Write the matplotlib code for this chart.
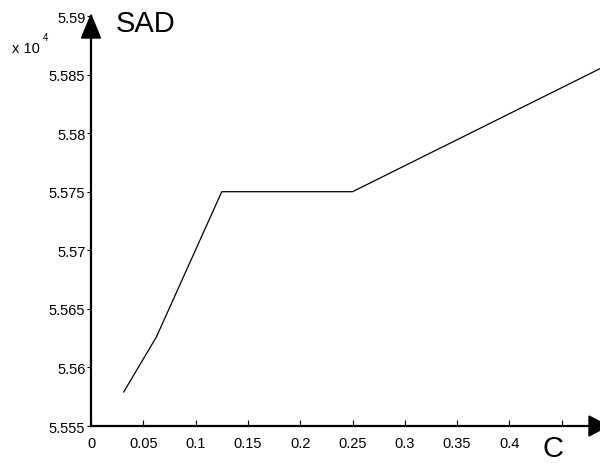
import matplotlib
matplotlib.use("Agg")
import matplotlib.pyplot as plt
from matplotlib.patches import Polygon

plt.rcParams['font.family'] = ['Liberation Sans', 'DejaVu Sans']

# C values and the SAD they give (x 10^4)
c_values = [0.03125, 0.0625, 0.125, 0.25, 0.5]
sad_values = [5.5579, 5.5626, 5.5750, 5.5750, 5.5861]

x_ticks = [0, 0.05, 0.1, 0.15, 0.2, 0.25, 0.3, 0.35, 0.4, 0.45]
x_tick_labels = ['0', '0.05', '0.1', '0.15', '0.2', '0.25', '0.3', '0.35', '0.4', '']
y_ticks = [5.555, 5.56, 5.565, 5.57, 5.575, 5.58, 5.585, 5.59]
y_tick_labels = ['5.555', '5.56', '5.565', '5.57', '5.575', '5.58', '5.585', '5.59']

W, H = 600, 464
fig = plt.figure(figsize=(W / 100, H / 100), dpi=100)


def fx(px):
    return px / W


def fy(py):
    return 1 - py / H


ax = fig.add_axes([fx(91), fy(427), fx(600) - fx(91), fy(17) - fy(427)])
ax.plot(c_values, sad_values, color='black', linewidth=0.9)

ax.set_xlim(0, 0.4866)
ax.set_ylim(5.555, 5.59)
ax.set_xticks(x_ticks)
ax.set_xticklabels(x_tick_labels)
ax.set_yticks(y_ticks)
ax.set_yticklabels(y_tick_labels)

for side in ['top', 'right']:
    ax.spines[side].set_visible(False)
for side in ['left', 'bottom']:
    ax.spines[side].set_linewidth(1.6)

ax.tick_params(axis='x', direction='in', length=4, width=0.8, labelsize=10.5, pad=7)
ax.tick_params(axis='y', direction='out', length=3, width=0.8, labelsize=10.5, pad=1)

# arrow heads at the ends of the axes
fig.patches.append(Polygon([(fx(91), fy(16)), (fx(81.5), fy(39)), (fx(100.5), fy(39))],
                           closed=True, facecolor='black', edgecolor='black',
                           transform=fig.transFigure, figure=fig))
fig.patches.append(Polygon([(fx(608), fy(427)), (fx(589), fy(417)), (fx(589), fy(437))],
                           closed=True, facecolor='black', edgecolor='black',
                           transform=fig.transFigure, figure=fig))

fig.text(fx(116), fy(32), 'SAD', fontsize=21, ha='left', va='baseline')
fig.text(fx(542), fy(457), 'C', fontsize=21, ha='left', va='baseline')
fig.text(fx(12), fy(53), 'x 10', fontsize=10.5, ha='left', va='baseline')
fig.text(fx(43), fy(41), '4', fontsize=7, ha='left', va='baseline')

fig.savefig('out.png', dpi=100)
